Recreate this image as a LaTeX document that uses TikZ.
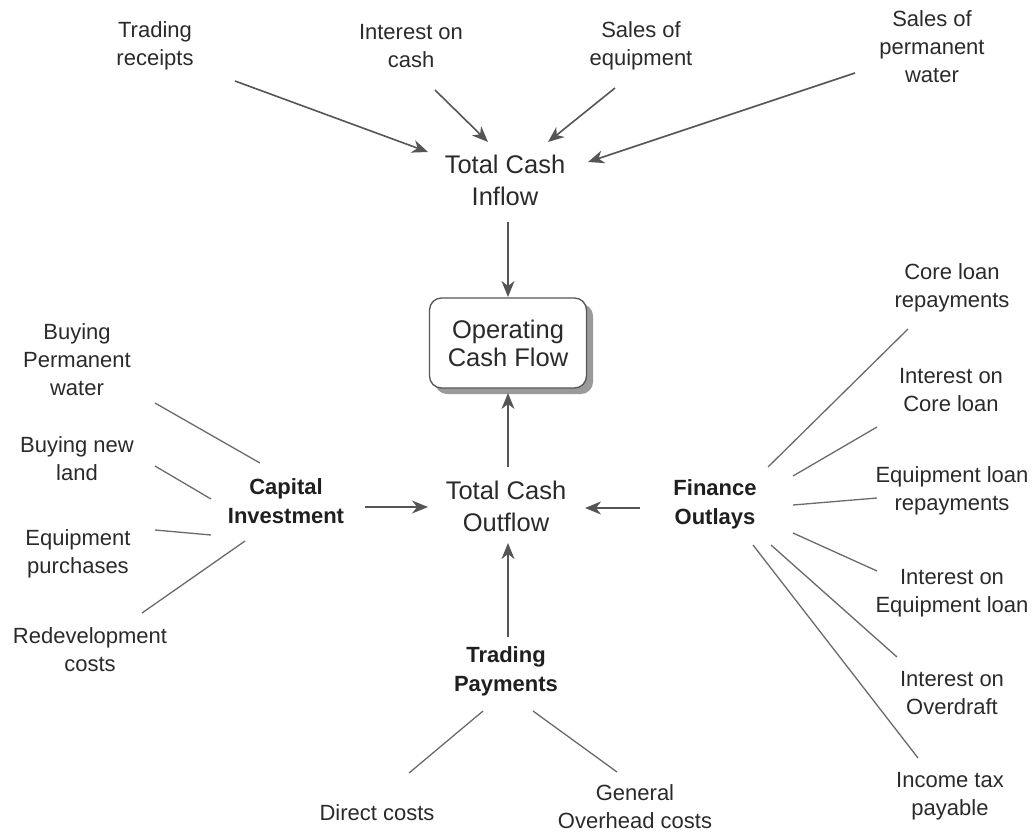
\documentclass[tikz,border=0pt]{standalone}
\usepackage{fontspec}
\setmainfont{Liberation Sans}
\usetikzlibrary{arrows.meta}
\definecolor{txt}{HTML}{2A2A2A}
\definecolor{arrc}{HTML}{555555}
\definecolor{linec}{HTML}{6A6A6A}
\definecolor{shadowc}{HTML}{9A9A9A}
\begin{document}
\begin{tikzpicture}[x=1pt,y=-1pt,
  lbl/.style={align=center,inner sep=0pt,text=txt,font=\fontsize{22}{28}\selectfont},
  hub/.style={align=center,inner sep=0pt,text=txt,font=\fontsize{25.5}{32}\selectfont},
  cat/.style={align=center,inner sep=0pt,text=black!88,font=\fontsize{22}{29}\selectfont\bfseries},
  arr/.style={draw=arrc,line width=1.6pt,-{Stealth[length=16pt,width=13pt,inset=5pt]}},
  spoke/.style={draw=linec,line width=1.3pt},
  ocfbox/.style={draw=arrc,line width=1.3pt,fill=white,rounded corners=12pt,minimum width=157pt,minimum height=90pt,inner sep=0pt,align=center,text=txt,font=\fontsize{25.5}{28}\selectfont}
]
\useasboundingbox (0,0) rectangle (1035,835);

% ---- labels ----
\node[lbl] (trec)  at (155,46)  {Trading\\receipts};
\node[lbl] (icash) at (411,46)  {Interest on\\cash};
\node[lbl] (seq)   at (641,46)  {Sales of\\equipment};
\node[lbl] (spw)   at (932,47)  {Sales of\\permanent\\water};

\node[hub] (inflow)  at (505,180) {Total Cash\\Inflow};
\node[hub] (outflow) at (506,506) {Total Cash\\Outflow};

\fill[shadowc,rounded corners=12pt] (435,304) rectangle (593,394);
\node[ocfbox] (ocf) at (508,343) {Operating\\Cash Flow};

\node[cat] (cap) at (286,501) {Capital\\Investment};
\node[cat] (fin) at (715,504) {Finance\\Outlays};
\node[cat] (tp)  at (506,671) {Trading\\Payments};

\node[lbl] (bpw)   at (77,360) {Buying\\Permanent\\water};
\node[lbl] (bnl)   at (77,459) {Buying new\\land};
\node[lbl] (eqp)   at (78,554) {Equipment\\purchases};
\node[lbl] (redev) at (90,650) {Redevelopment\\costs};

\node[lbl] (clr) at (952,288) {Core loan\\repayments};
\node[lbl] (icl) at (951,390) {Interest on\\Core loan};
\node[lbl] (elr) at (952,491) {Equipment loan\\repayments};
\node[lbl] (iel) at (952,593) {Interest on\\Equipment loan};
\node[lbl] (iod) at (952,693) {Interest on\\Overdraft};
\node[lbl] (itp) at (950,796) {Income tax\\payable};

\node[lbl] (dc)  at (377,813) {Direct costs};
\node[lbl] (goc) at (635,807) {General\\Overhead costs};

% ---- connector end points ----
\coordinate (trec-e) at (235,81);   \coordinate (in-a) at (428,152);
\coordinate (icash-e) at (435,90);  \coordinate (in-b) at (488,142);
\coordinate (seq-e) at (615,88);    \coordinate (in-c) at (548,142);
\coordinate (spw-e) at (855,73);    \coordinate (in-d) at (588,162);
\coordinate (in-s) at (508,222);    \coordinate (ocf-n) at (508,297);
\coordinate (out-n) at (508,467);   \coordinate (ocf-s) at (508,393);
\coordinate (cap-e) at (365,507);   \coordinate (out-w) at (428,507);
\coordinate (fin-e) at (640,508);   \coordinate (out-e) at (585,508);
\coordinate (tp-n) at (508,637);    \coordinate (out-s) at (508,543);

\coordinate (bpw-e) at (155,403);   \coordinate (cap-1) at (260,463);
\coordinate (bnl-e) at (155,466);   \coordinate (cap-2) at (211,499);
\coordinate (eqp-e) at (155,530);   \coordinate (cap-3) at (211,535);
\coordinate (redev-e) at (142,613); \coordinate (cap-4) at (245,541);

\coordinate (tp-1) at (483,711);    \coordinate (dc-e) at (409,773);
\coordinate (tp-2) at (533,711);    \coordinate (goc-e) at (617,772);

\coordinate (fin-1) at (768,467);   \coordinate (clr-e) at (908,329);
\coordinate (fin-2) at (793,476);   \coordinate (icl-e) at (877,427);
\coordinate (fin-3) at (793,505);   \coordinate (elr-e) at (877,498);
\coordinate (fin-4) at (793,533);   \coordinate (iel-e) at (877,571);
\coordinate (fin-5) at (771,545);   \coordinate (iod-e) at (897,657);
\coordinate (fin-6) at (753,545);   \coordinate (itp-e) at (918,758);

% ---- arrows ----
\draw[arr] (trec-e) -- (in-a);
\draw[arr] (icash-e) -- (in-b);
\draw[arr] (seq-e) -- (in-c);
\draw[arr] (spw-e) -- (in-d);
\draw[arr] (in-s) -- (ocf-n);
\draw[arr] (out-n) -- (ocf-s);
\draw[arr] (cap-e) -- (out-w);
\draw[arr] (fin-e) -- (out-e);
\draw[arr] (tp-n) -- (out-s);

% ---- spokes ----
\draw[spoke] (bpw-e) -- (cap-1);
\draw[spoke] (bnl-e) -- (cap-2);
\draw[spoke] (eqp-e) -- (cap-3);
\draw[spoke] (redev-e) -- (cap-4);
\draw[spoke] (tp-1) -- (dc-e);
\draw[spoke] (tp-2) -- (goc-e);
\draw[spoke] (fin-1) -- (clr-e);
\draw[spoke] (fin-2) -- (icl-e);
\draw[spoke] (fin-3) -- (elr-e);
\draw[spoke] (fin-4) -- (iel-e);
\draw[spoke] (fin-5) -- (iod-e);
\draw[spoke] (fin-6) -- (itp-e);
\end{tikzpicture}
\end{document}
